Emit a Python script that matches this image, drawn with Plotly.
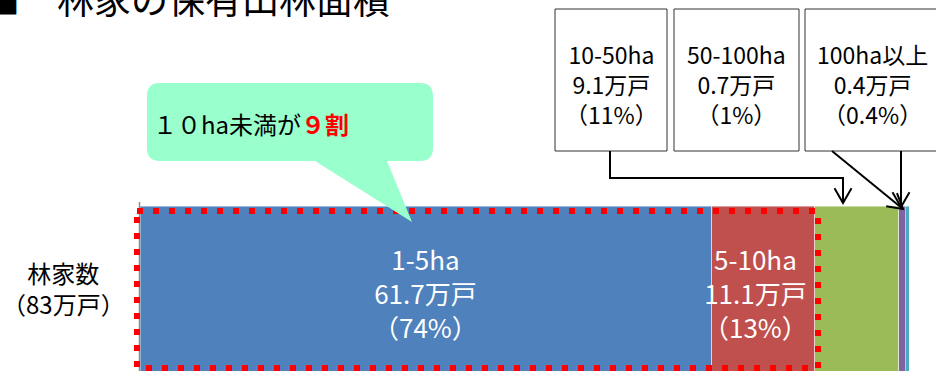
import plotly.graph_objects as go
import math

# ---- data ----
categories = ["1-5ha", "5-10ha", "10-50ha", "50-100ha", "100ha以上"]
households = [61.7, 11.1, 9.1, 0.7, 0.4]          # 万戸
shares = ["74%", "13%", "11%", "1%", "0.4%"]
colors = ["#4F81BD", "#C0504D", "#9BBB59", "#8064A2", "#4BACC6"]
row_label = ["林家数", "（83万戸）"]
title_text = "■　林家の保有山林面積"
callout_plain = "１０ha未満が"
callout_bold = "９割"

W, H = 936, 371
ML, MR, MT, MB = 140, 27, 0, 0
PW = W - ML - MR
PH = H - MT - MB
FONT = "Noto Sans CJK JP, Noto Sans, sans-serif"

def px(x):
    return (x - ML) / PW

def py(y):
    return 1 - (y - MT) / PH

fig = go.Figure()
for cat, val, col in zip(categories, households, colors):
    fig.add_trace(go.Bar(
        y=[0], x=[val], orientation="h", name=cat, width=1,
        marker=dict(color=col, line=dict(color="rgba(255,255,255,0.45)", width=1)),
        hoverinfo="skip", showlegend=False,
    ))

total = sum(households)
top_px = 206
units_per_px = 0.9 / (H - top_px)
ymin = -0.4
ymax = 0.5 + top_px * units_per_px

shapes = []
annotations = []

# gray axis line
shapes.append(dict(type="line", xref="paper", yref="paper",
                   x0=px(139.5), x1=px(139.5), y0=py(202), y1=py(371),
                   line=dict(color="#8C8C8C", width=1.5)))

# red dotted frame around <10ha
shapes.append(dict(type="rect", xref="paper", yref="paper",
                   x0=px(137), x1=px(818), y0=py(211), y1=py(368),
                   line=dict(color="#FF0000", width=6, dash="6px,10px")))

# callout bubble
x0c, x1c, y0c, y1c, r = 147, 433, 83, 161, 13
tail = [(387, 161), (412, 222), (315, 161)]
def P(x, y):
    return f"{px(x):.5f},{py(y):.5f}"
path = (f"M {P(x0c+r, y0c)} L {P(x1c-r, y0c)} Q {P(x1c, y0c)} {P(x1c, y0c+r)} "
        f"L {P(x1c, y1c-r)} Q {P(x1c, y1c)} {P(x1c-r, y1c)} "
        f"L {P(*tail[0])} L {P(*tail[1])} L {P(*tail[2])} "
        f"L {P(x0c+r, y1c)} Q {P(x0c, y1c)} {P(x0c, y1c-r)} "
        f"L {P(x0c, y0c+r)} Q {P(x0c, y0c)} {P(x0c+r, y0c)} Z")
shapes.append(dict(type="path", xref="paper", yref="paper", path=path,
                   fillcolor="#99FFCC", line=dict(width=0)))
annotations.append(dict(xref="paper", yref="paper", x=px(151), y=py(123),
                        xanchor="left", yanchor="middle", showarrow=False,
                        text=f'{callout_plain}<span style="color:#FF0000"><b>{callout_bold}</b></span>',
                        font=dict(family=FONT, size=24, color="#000000")))

# boxes for small categories
boxes = [(555, 667), (674, 799), (805, 960)]
box_cx = [611, 736.5, 872]
for (bx0, bx1), cx, i in zip(boxes, box_cx, [2, 3, 4]):
    shapes.append(dict(type="rect", xref="paper", yref="paper",
                       x0=px(bx0), x1=px(bx1), y0=py(9), y1=py(151),
                       line=dict(color="#333333", width=1), fillcolor="white"))
    lines = [categories[i], f"{households[i]}万戸", f"（{shares[i]}）"]
    annotations.append(dict(xref="paper", yref="paper", x=px(cx), y=py(84),
                            xanchor="center", yanchor="middle", showarrow=False,
                            text="<br>".join(lines),
                            font=dict(family=FONT, size=23, color="#000000")))

# arrows
def line_path(pts):
    return "M " + " L ".join(P(x, y) for x, y in pts)

def head(tip, frm, L=17, ang=30):
    dx, dy = frm[0] - tip[0], frm[1] - tip[1]
    n = math.hypot(dx, dy)
    ux, uy = dx / n, dy / n
    pts = []
    for s in (1, -1):
        a = math.radians(ang) * s
        rx = ux * math.cos(a) - uy * math.sin(a)
        ry = ux * math.sin(a) + uy * math.cos(a)
        pts.append((tip[0] + rx * L, tip[1] + ry * L))
    return [pts[0], tip, pts[1]]

arrow_lines = [
    [(610, 151), (610, 178), (843, 178), (843, 203)],
    [(832, 151), (903, 209)],
    [(901, 151), (901, 207)],
]
for pts in arrow_lines:
    shapes.append(dict(type="path", xref="paper", yref="paper", path=line_path(pts),
                       line=dict(color="#000000", width=2)))
    shapes.append(dict(type="path", xref="paper", yref="paper",
                       path=line_path(head(pts[-1], pts[-2])),
                       line=dict(color="#000000", width=2)))

# labels inside bars
cum = 0
label_xshift = [0, -8]
for i in range(2):
    center = cum + households[i] / 2
    cum += households[i]
    lines = [categories[i], f"{households[i]}万戸", f"（{shares[i]}）"]
    annotations.append(dict(xref="x", yref="paper", x=center, y=py(292),
                            xshift=label_xshift[i],
                            xanchor="center", yanchor="middle", showarrow=False,
                            text="<br>".join(lines),
                            font=dict(family=FONT, size=26, color="#FFFFFF")))

# row label
annotations.append(dict(xref="paper", yref="paper", x=px(63), y=py(288),
                        xanchor="center", yanchor="middle", showarrow=False,
                        text="<br>".join(row_label),
                        font=dict(family=FONT, size=24, color="#000000")))

# title (cut at top)
annotations.append(dict(xref="paper", yref="paper", x=px(-19), y=py(-2),
                        xanchor="left", yanchor="middle", showarrow=False,
                        text=title_text, font=dict(family=FONT, size=37, color="#000000")))

fig.update_layout(
    width=W, height=H, barmode="stack",
    margin=dict(l=ML, r=MR, t=MT, b=MB, pad=0),
    paper_bgcolor="white", plot_bgcolor="white",
    xaxis=dict(range=[0, total], visible=False, fixedrange=True),
    yaxis=dict(range=[ymin, ymax], visible=False, fixedrange=True),
    shapes=shapes, annotations=annotations,
    font=dict(family=FONT),
)

fig.write_html("out.html")
